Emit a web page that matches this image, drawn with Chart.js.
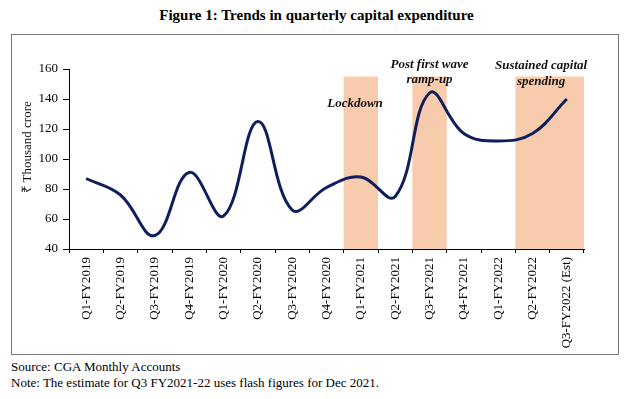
<!DOCTYPE html>
<html>
<head>
<meta charset="utf-8">
<script src="https://cdn.jsdelivr.net/npm/chart.js@4"></script>
<style>
  body { margin: 0; background: #fff; font-family: 'Liberation Serif', 'Times New Roman', serif; }
  #wrap { position: relative; width: 633px; height: 399px; }
  #title { position: absolute; left: 0; width: 633px; top: 7px; text-align: center; font-weight: bold; font-size: 15px; }
  #frame { position: absolute; left: 11px; top: 34px; width: 606px; height: 319px; border: 1px solid #777; }
  .foot { position: absolute; left: 11px; font-size: 13px; }
  canvas { position: absolute; left: 0; top: 0; }
</style>
</head>
<body>
<div id="wrap">
  <div id="title">Figure 1: Trends in quarterly capital expenditure</div>
  <div id="frame"></div>
  <div class="foot" style="top:359px">Source: CGA Monthly Accounts</div>
  <div class="foot" style="top:375px">Note: The estimate for Q3 FY2021-22 uses flash figures for Dec 2021.</div>
  <canvas id="capexChart" width="633" height="399"></canvas>
</div>
<script>
// Données (₹ milliers de crore)
const quarters = ['Q1-FY2019', 'Q2-FY2019', 'Q3-FY2019', 'Q4-FY2019', 'Q1-FY2020', 'Q2-FY2020', 'Q3-FY2020', 'Q4-FY2020',
    'Q1-FY2021', 'Q2-FY2021', 'Q3-FY2021', 'Q4-FY2021', 'Q1-FY2022', 'Q2-FY2022', 'Q3-FY2022 (Est)'];
const capex = [87, 76, 49, 91, 62, 125, 66, 81, 88, 75, 144, 117, 112, 117, 140];
const yTicks = [40, 60, 80, 100, 120, 140, 160];
// périodes surlignées: [premier trimestre, dernier trimestre]
const bands = [['Q1-FY2021', 'Q1-FY2021'], ['Q3-FY2021', 'Q3-FY2021'], ['Q2-FY2022', 'Q3-FY2022 (Est)']];
const bandTop = 155;

const serif = "'Liberation Serif', 'Times New Roman', serif";

const bandsPlugin = {
    id: 'bands',
    beforeDatasetsDraw(chart) {
        const { ctx, scales: { x, y } } = chart;
        const half = (x.getPixelForValue(1) - x.getPixelForValue(0)) / 2;
        ctx.save();
        ctx.fillStyle = '#f8cbad';
        bands.forEach(([a, b]) => {
            const x0 = x.getPixelForValue(quarters.indexOf(a)) - half;
            const x1 = x.getPixelForValue(quarters.indexOf(b)) + half;
            const y0 = y.getPixelForValue(bandTop);
            ctx.fillRect(x0, y0, x1 - x0, y.getPixelForValue(yTicks[0]) - y0);
        });
        ctx.restore();
    },
    afterDatasetsDraw(chart) {
        const { ctx, scales: { x, y } } = chart;
        ctx.save();
        ctx.fillStyle = '#111';
        ctx.textAlign = 'center';
        ctx.textBaseline = 'middle';
        // titre de l'axe Y, un peu au-dessus du milieu comme dans Excel
        ctx.save();
        ctx.font = '13px ' + serif;
        ctx.translate(28, (chart.chartArea.top + chart.chartArea.bottom) / 2 - 12);
        ctx.rotate(-Math.PI / 2);
        ctx.fillText('₹ Thousand crore', 0, 0);
        ctx.restore();

        ctx.font = 'italic bold 13px ' + serif;
        const put = (txt, i, v) => ctx.fillText(txt, x.getPixelForValue(i), y.getPixelForValue(v));
        put('Lockdown', 7.83, 137);
        put('Post first wave', 10, 163);
        put('ramp-up', 10, 153);
        put('Sustained capital', 13.25, 162.5);
        put('spending', 13.25, 151.5);
        ctx.restore();
    }
};

const ctx = document.getElementById('capexChart').getContext('2d');
new Chart(ctx, {
    type: 'line',
    data: {
        labels: quarters,
        datasets: [{
            data: capex,
            borderColor: '#0f1f5c',
            borderWidth: 3,
            pointRadius: 0,
            tension: 0.4,
            fill: false
        }]
    },
    options: {
        responsive: false,
        animation: false,
        layout: { padding: { left: 14, top: 69, right: 49, bottom: 0 } },
        plugins: { legend: { display: false }, tooltip: { enabled: false } },
        scales: {
            x: {
                offset: true,
                grid: { offset: true, drawOnChartArea: false, tickLength: 4, color: '#000' },
                border: { color: '#000' },
                ticks: { autoSkip: false, minRotation: 90, maxRotation: 90, padding: 4, color: '#000', font: { family: serif, size: 13 } },
                afterFit(scale) { scale.height = 150; }
            },
            y: {
                min: 40,
                max: 160,
                afterBuildTicks(scale) { scale.ticks = yTicks.map(v => ({ value: v })); },
                grid: { drawOnChartArea: false, tickLength: 6, color: '#000' },
                border: { color: '#000' },
                ticks: { padding: 5, color: '#000', font: { family: serif, size: 13 } },
                // le titre est dessiné par le plugin; on garde la place ici
                title: { display: true, text: ' ', padding: 6, font: { family: serif, size: 13 } },
                afterFit(scale) { scale.width = 55; }
            }
        }
    },
    plugins: [bandsPlugin]
});
</script>
</body>
</html>
